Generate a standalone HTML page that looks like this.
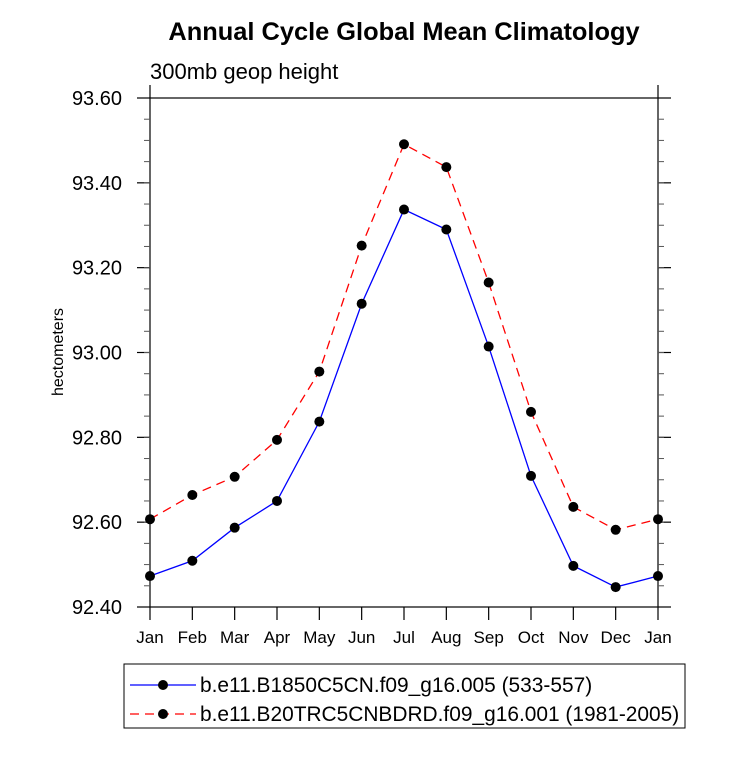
<!DOCTYPE html>
<html><head><meta charset="utf-8"><style>
html,body{margin:0;padding:0;background:#fff;}
svg text{font-family:"Liberation Sans",Arial,sans-serif;fill:#000;}
</style></head><body>
<svg id="chart" width="733" height="754" xmlns="http://www.w3.org/2000/svg">
<text x="404" y="40" font-size="25.4" font-weight="bold" text-anchor="middle">Annual Cycle Global Mean Climatology</text>
<text x="150" y="79" font-size="22">300mb geop height</text>
<text transform="translate(63,352) rotate(-90)" font-size="16" text-anchor="middle">hectometers</text>
<g id="axes"></g><g id="series"></g>
<g>
<rect x="124" y="664" width="561" height="64" fill="none" stroke="#000" stroke-width="1"/>
<line x1="130" y1="685" x2="196" y2="685" stroke="#0000ff" stroke-width="1.3"/>
<circle cx="163" cy="685" r="5" fill="#000"/>
<text x="200" y="692" font-size="20.9">b.e11.B1850C5CN.f09_g16.005 (533-557)</text>
<line x1="130" y1="714" x2="196" y2="714" stroke="#ff0000" stroke-width="1.3" stroke-dasharray="9,6"/>
<circle cx="163" cy="714" r="5" fill="#000"/>
<text x="200" y="721" font-size="20.9">b.e11.B20TRC5CNBDRD.f09_g16.001 (1981-2005)</text>
</g>
</svg>
<script>
const months=["Jan","Feb","Mar","Apr","May","Jun","Jul","Aug","Sep","Oct","Nov","Dec","Jan"];
const yTicks=[92.4,92.6,92.8,93.0,93.2,93.4,93.6];
const seriesBlue=[92.473,92.509,92.587,92.650,92.837,93.115,93.337,93.290,93.014,92.709,92.497,92.447,92.473];
const seriesRed=[92.607,92.664,92.707,92.794,92.955,93.252,93.491,93.437,93.165,92.860,92.636,92.582,92.607];
const L=150,R=658,T=98,B=607,ymin=92.4,ymax=93.6;
const xs=i=>L+i*(R-L)/(months.length-1);
const ys=v=>B-(v-ymin)/(ymax-ymin)*(B-T);
const NS="http://www.w3.org/2000/svg";
function mk(tag,attrs,parent){const e=document.createElementNS(NS,tag);for(const k in attrs)e.setAttribute(k,attrs[k]);parent.appendChild(e);return e;}
const ax=document.getElementById('axes');
const frame=mk('rect',{x:L,y:T,width:R-L,height:B-T,fill:'none',stroke:'#000','stroke-width':1.2},ax);


mk('line',{x1:L,y1:85,x2:L,y2:T,stroke:'#000','stroke-width':1.2},ax);
mk('line',{x1:R,y1:85,x2:R,y2:T,stroke:'#000','stroke-width':1.2},ax);
yTicks.forEach(v=>{
  const y=ys(v);
  mk('line',{x1:L-13,y1:y,x2:L,y2:y,stroke:'#000','stroke-width':1.2},ax);
  mk('line',{x1:R,y1:y,x2:R+13,y2:y,stroke:'#000','stroke-width':1.2},ax);
  const t=mk('text',{x:L-28,y:y+7,'font-size':20,'text-anchor':'end'},ax);
  t.textContent=v.toFixed(2);
  
  
});
for(let v=ymin+0.05;v<ymax-0.01;v+=0.05){
  const y=ys(v);
  mk('line',{x1:L-6,y1:y,x2:L,y2:y,stroke:'#555','stroke-width':1},ax);
  mk('line',{x1:R,y1:y,x2:R+6,y2:y,stroke:'#555','stroke-width':1},ax);
}
months.forEach((m,i)=>{
  const x=xs(i);
  mk('line',{x1:x,y1:B,x2:x,y2:B+13,stroke:'#000','stroke-width':1.2},ax);
  const t=mk('text',{x:x,y:643,'font-size':17,'text-anchor':'middle'},ax);
  t.textContent=m;
  
  
});
const sg=document.getElementById('series');
function draw(vals,color,dash,name){
  const pts=vals.map((v,i)=>xs(i)+','+ys(v)).join(' ');
  const pl=mk('polyline',{points:pts,fill:'none',stroke:color,'stroke-width':1.3},sg);
  if(dash)pl.setAttribute('stroke-dasharray',dash);
  
  
  vals.forEach((v,i)=>{
    const c=mk('circle',{cx:xs(i),cy:ys(v),r:5,fill:'#000'},sg);
    
    
  });
}
draw(seriesRed,'#ff0000','9,6','red-series');
draw(seriesBlue,'#0000ff',null,'blue-series');
</script>
</body></html>
